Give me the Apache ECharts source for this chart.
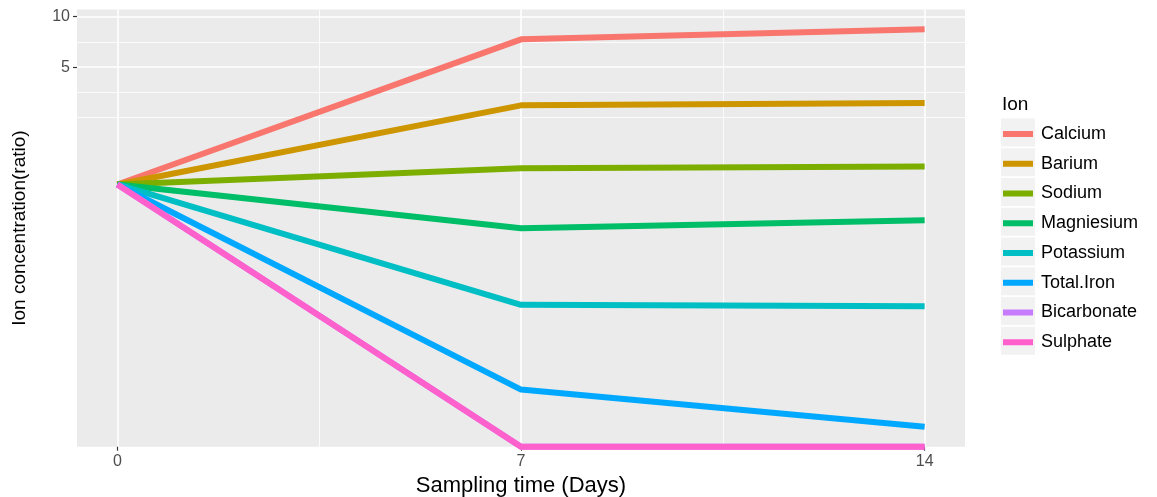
<!DOCTYPE html>
<html>
<head>
<meta charset="utf-8">
<script src="https://cdn.jsdelivr.net/npm/echarts@6/dist/echarts.min.js"></script>
<style>html,body{margin:0;padding:0;background:#fff}#c{width:1157px;height:497px}</style>
</head>
<body>
<div id="c"></div>
<script>
// ---- data ----
const days = [0, 7, 14];
const ions = ['Calcium', 'Barium', 'Sodium', 'Magniesium', 'Potassium', 'Total.Iron', 'Bicarbonate', 'Sulphate'];
const calcium     = [1, 7.32, 8.39];
const barium      = [1, 2.96, 3.06];
const sodium      = [1, 1.25, 1.28];
const magniesium  = [1, 0.549, 0.612];
const potassium   = [1, 0.192, 0.188];
const totalIron   = [1, 0.060, 0.036];
const bicarbonate = [1, 0, 0];
const sulphate    = [1, 0, 0];
const xTickLabels = [0, 7, 14];
const yTickLabels = [5, 10];

// ---- styling ----
const colors = ['#F8766D', '#CD9600', '#7CAE00', '#00BE67', '#00BFC4', '#00A9FF', '#C77CFF', '#FF61CC'];
const FONT = 'Liberation Sans, Arial, Helvetica, sans-serif';
const seriesValues = [calcium, barium, sodium, magniesium, potassium, totalIron, bicarbonate, sulphate];

// ggplot-like limits: log10 scale, 5% expansion of positive data range
const pos = [].concat(...seriesValues).filter(v => v > 0);
const lmin = Math.log10(Math.min(...pos)), lmax = Math.log10(Math.max(...pos));
const lpad = (lmax - lmin) * 0.05;
const LY0 = lmin - lpad, LY1 = lmax + lpad;
const Y_MIN = Math.pow(10, LY0), Y_MAX = Math.pow(10, LY1);
const xpad = (Math.max(...days) - Math.min(...days)) * 0.05;
const X_MIN = Math.min(...days) - xpad, X_MAX = Math.max(...days) + xpad;

// minor breaks (midpoints in log space, ggplot style)
const majL = yTickLabels.map(v => Math.log10(v));
const bd = majL[1] - majL[0];
const ext = [majL[0] - bd].concat(majL);
const minorL = [];
for (let i = 0; i < ext.length; i++) {
  minorL.push(ext[i]);
  if (i < ext.length - 1) minorL.push((ext[i] + ext[i + 1]) / 2);
}
const minorY = minorL.filter(v => v >= LY0 && v <= LY1 && majL.indexOf(v) < 0);
const minorX = [];
for (let i = 0; i < xTickLabels.length - 1; i++) minorX.push((xTickLabels[i] + xTickLabels[i + 1]) / 2);

const KEY_TOP = 132.5, KEY_STEP = 29.75;
const keyRects = ions.map((n, i) => ({
  type: 'rect', z: 1,
  shape: { x: 1001, y: KEY_TOP + i * KEY_STEP - 14, width: 34, height: 28 },
  style: { fill: '#F2F2F2' }
}));

const chart = echarts.init(document.getElementById('c'), null, { renderer: 'canvas' });
chart.setOption({
  animation: false,
  color: colors,
  title: {
    text: 'Ion', left: 1002, top: 95, padding: 0,
    textStyle: { fontSize: 19, fontWeight: 'normal', color: '#000', fontFamily: FONT }
  },
  graphic: keyRects,
  legend: {
    data: ions, orient: 'vertical', left: 1003, top: 124, padding: 0,
    icon: 'rect', itemWidth: 30, itemHeight: 6, itemGap: 9.75,
    selectedMode: false, z: 5,
    textStyle: { fontSize: 18, color: '#000', fontFamily: FONT, lineHeight: 20, padding: [0, 0, 0, 3] }
  },
  grid: {
    left: 77, right: 192, top: 9.5, bottom: 50.3,
    outerBoundsMode: 'none', containLabel: false,
    show: true, backgroundColor: '#EBEBEB', borderWidth: 0
  },
  xAxis: [
    {
      type: 'value', min: X_MIN, max: X_MAX, position: 'bottom',
      name: 'Sampling time (Days)', nameLocation: 'middle', nameGap: 27,
      nameTextStyle: { fontSize: 22, color: '#000', fontFamily: FONT, verticalAlign: 'top' },
      axisLine: { show: false, onZero: false },
      axisTick: { show: true, length: 4, customValues: xTickLabels, lineStyle: { color: '#333', width: 1.2 } },
      axisLabel: { customValues: xTickLabels, margin: 7, fontSize: 16, color: '#4D4D4D', fontFamily: FONT },
      splitLine: { show: true, lineStyle: { color: '#FFFFFF', width: 1.6 } }
    },
    {
      type: 'value', min: X_MIN, max: X_MAX, position: 'bottom',
      axisLine: { show: false, onZero: false },
      axisTick: { show: false, customValues: minorX },
      axisLabel: { show: false },
      splitLine: { show: true, lineStyle: { color: '#FFFFFF', width: 0.8 } }
    }
  ],
  yAxis: [
    { // data axis: log scale
      type: 'log', logBase: 10, min: Y_MIN, max: Y_MAX, show: false
    },
    { // visible tick axis mirroring log10 of the data axis
      type: 'value', min: LY0, max: LY1, position: 'left',
      name: 'Ion concentration(ratio)', nameLocation: 'middle', nameGap: 48,
      nameTextStyle: { fontSize: 19, color: '#000', fontFamily: FONT },
      axisLine: { show: false, onZero: false },
      axisTick: { show: true, length: 4, customValues: majL, lineStyle: { color: '#333', width: 1.2 } },
      axisLabel: {
        customValues: majL, margin: 7, fontSize: 16, color: '#4D4D4D', fontFamily: FONT,
        formatter: v => String(Math.round(Math.pow(10, v)))
      },
      splitLine: { show: true, lineStyle: { color: '#FFFFFF', width: 1.6 } }
    },
    { // minor grid lines
      type: 'value', min: LY0, max: LY1, position: 'left',
      axisLine: { show: false, onZero: false },
      axisTick: { show: false, customValues: minorY },
      axisLabel: { show: false },
      splitLine: { show: true, lineStyle: { color: '#FFFFFF', width: 0.8 } }
    }
  ],
  series: ions.map((name, i) => ({
    name, type: 'line', xAxisIndex: 0, yAxisIndex: 0,
    // zero values sit on the panel floor, as ggplot draws -Inf on a log axis
    data: days.map((d, j) => [d, seriesValues[i][j] > 0 ? seriesValues[i][j] : Y_MIN]),
    symbol: 'none', showSymbol: false, clip: false,
    lineStyle: { width: 6, color: colors[i] },
    itemStyle: { color: colors[i] },
    z: 3
  }))
});
</script>
</body>
</html>
